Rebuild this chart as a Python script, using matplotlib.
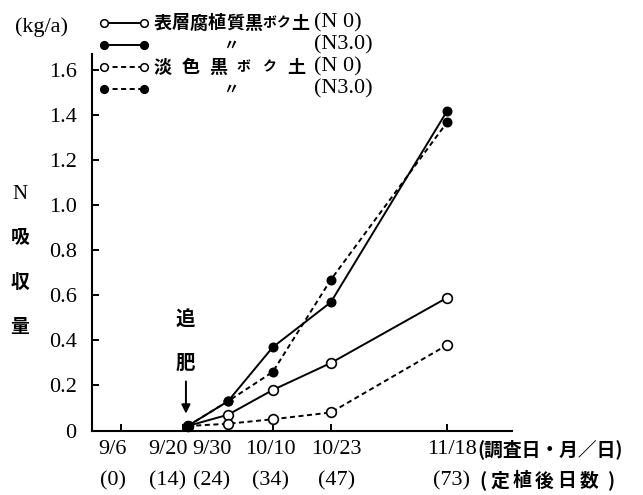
import matplotlib
matplotlib.use("Agg")
import matplotlib.pyplot as plt
from matplotlib.lines import Line2D
from matplotlib.transforms import blended_transform_factory

# ---- data -------------------------------------------------------------
days = [15, 24, 34, 47, 73]            # days after transplanting
humic_n0 = [0.02, 0.07, 0.18, 0.30, 0.59]
humic_n3 = [0.02, 0.13, 0.37, 0.57, 1.42]
light_n0 = [0.02, 0.03, 0.05, 0.08, 0.38]
light_n3 = [0.02, 0.13, 0.26, 0.67, 1.37]

tick_days = [0, 14, 24, 34, 47, 73]
date_labels = ["9/6", "9/20", "9/30", "10/10", "10/23", "11/18"]
day_labels = ["(0)", "(14)", "(24)", "(34)", "(47)", "(73)"]
topdress_day = 14.6

y_ticks = [0, 0.2, 0.4, 0.6, 0.8, 1.0, 1.2, 1.4, 1.6]
y_tick_labels = ["0", "0.2", "0.4", "0.6", "0.8", "1.0", "1.2", "1.4", "1.6"]

# ---- styling ----------------------------------------------------------
SERIF = ["Liberation Serif", "Noto Sans CJK JP"]
CJK = ["Noto Sans CJK JP", "Liberation Serif"]
LW = 1.4
DASH = (0, (2.6, 1.8))

W, H = 643, 495
fig = plt.figure(figsize=(W / 100, H / 100), dpi=100)
ax = fig.add_axes([92 / W, (H - 430.5) / H, 420 / W, 376.5 / H])


def px(x, y):
    """figure-pixel position -> figure fraction"""
    return x / W, 1 - y / H


def cjk(x, y, s, size=13.5, **kw):
    fig.text(*px(x, y), s, ha=kw.pop("ha", "center"), va="center",
             fontsize=size, fontfamily=CJK, fontweight="bold", **kw)


series = [
    (humic_n0, "-", "white"),
    (humic_n3, "-", "black"),
    (light_n0, DASH, "white"),
    (light_n3, DASH, "black"),
]
for vals, ls, fc in series:
    ms = 7 if fc == "white" else 6
    ax.plot(days, vals, color="black", lw=LW, linestyle=ls, marker="o",
            ms=ms, mfc=fc, mec="black", mew=1.2, clip_on=False, zorder=3)

ax.set_xlim(-6.4, 87.5)
ax.set_ylim(0, 1.673)
for s in ("top", "right"):
    ax.spines[s].set_visible(False)
for s in ("left", "bottom"):
    ax.spines[s].set_linewidth(1.5)

ax.set_yticks(y_ticks)
ax.set_yticklabels(y_tick_labels, fontfamily=SERIF, fontsize=16)
ax.tick_params(axis="y", direction="in", length=5, width=1.4, pad=11)
ax.set_xticks(tick_days)
ax.set_xticklabels([])
ax.tick_params(axis="x", direction="in", length=5, width=1.4)

# x-axis labels in two rows
label_shift = [-1.8, -3.4, -3.6, -0.5, 1.2, 1.0]
tr = blended_transform_factory(ax.transData, fig.transFigure)
for d, sh, dl, nl in zip(tick_days, label_shift, date_labels, day_labels):
    ax.text(d + sh, 1 - 449 / H, dl, transform=tr,
            ha="center", va="center", fontsize=16, fontfamily=SERIF)
    ax.text(d + sh, 1 - 481 / H, nl, transform=tr,
            ha="center", va="center", fontsize=16, fontfamily=SERIF)
cjk(477, 449, "(調査日・月／日)", size=13.5, ha="left")
for ch, xx in zip("(定植後日数)", (483, 500, 522, 544, 566, 589, 611)):
    cjk(xx, 481, ch, size=13.5)

# y-axis unit and title
fig.text(*px(42, 27), "(kg/a)", ha="center", va="center",
         fontsize=16, fontfamily=SERIF)
fig.text(*px(20, 194), "N", ha="center", va="center",
         fontsize=15, fontfamily=SERIF)
for ch, yy in zip("吸収量", (238, 282, 327)):
    cjk(20, yy, ch, size=13.5)

# top-dressing arrow
cjk(185, 320, "追", size=14)
cjk(185, 363, "肥", size=14)
ax.annotate("", xy=(topdress_day, 0.075), xytext=(topdress_day, 0.218),
            arrowprops=dict(arrowstyle="-|>", color="black", lw=1.4,
                            mutation_scale=13, shrinkA=0, shrinkB=0))

# legend
legend_rows = [(23, "-", "white"), (45, "-", "black"),
               (67, DASH, "white"), (89, DASH, "black")]
for yy, ls, fc in legend_rows:
    x0, y0 = px(104, yy)
    x1, _ = px(144, yy)
    fig.add_artist(Line2D([x0, x1], [y0, y0], transform=fig.transFigure,
                          color="black", lw=LW, linestyle=ls, marker="o",
                          ms=5.5, mfc=fc, mec="black", mew=1.1))

row1 = [("表", 163), ("層", 181), ("腐", 199), ("植", 217), ("質", 235),
        ("黒", 253), ("ボ", 269), ("ク", 283), ("土", 300)]
row3 = [("淡", 163), ("色", 191), ("黒", 218), ("ボ", 243), ("ク", 269),
        ("土", 296)]
for yy, row in ((23, row1), (67, row3)):
    for ch, xx in row:
        cjk(xx, yy, ch, size=10 if ch in "ボク" else 13)
for yy in (45, 89):
    cjk(231, yy, "〃", size=11)
for yy, t in ((23, "(N 0)"), (45, "(N3.0)"), (67, "(N 0)"), (89, "(N3.0)")):
    fig.text(*px(314, yy), t, ha="left", va="center", fontsize=16,
             fontfamily=SERIF)

fig.savefig("out.png", dpi=100)
